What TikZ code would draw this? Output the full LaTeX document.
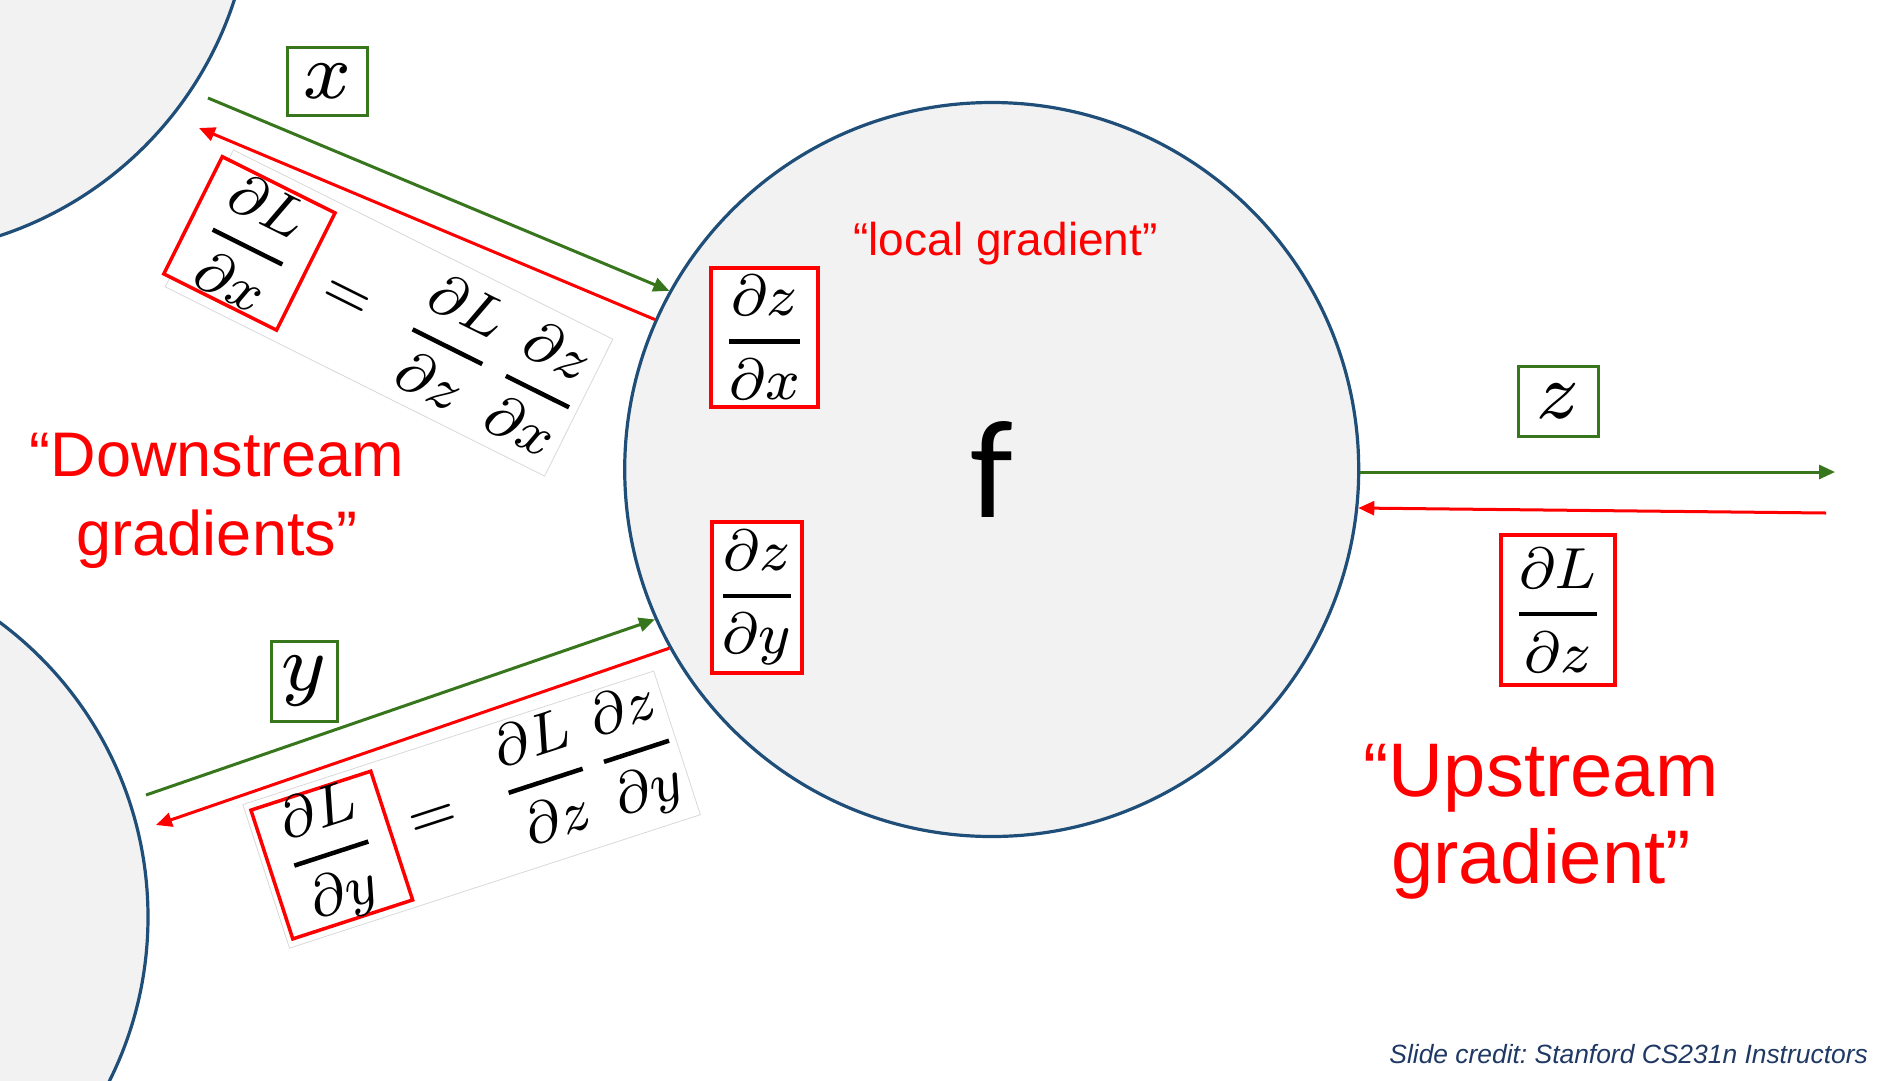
\documentclass[tikz,border=0pt]{standalone}
\usepackage{fix-cm}
\usepackage{amsmath}
\usepackage{fontspec}
\setmainfont{Liberation Sans}
\newfontfamily\calibrifont{Carlito}
\DeclareFontShape{OML}{cmm}{m}{it}{<->cmmi8}{}
\DeclareFontShape{OT1}{cmr}{m}{n}{<->cmr8}{}
\DeclareFontShape{OMS}{cmsy}{m}{n}{<->cmsy8}{}
\usepackage{tikz}
\usetikzlibrary{arrows.meta, positioning}
\definecolor{nodeblue}{HTML}{1F4E79}
\definecolor{nodefill}{HTML}{F2F2F2}
\definecolor{fwdgreen}{HTML}{38761D}
\definecolor{gradred}{HTML}{FF0000}
\definecolor{creditc}{HTML}{1F3864}
\newcommand{\gfrac}[2]{{\displaystyle{#1\above 4.5pt #2}}}

\begin{document}
\begin{tikzpicture}[
  x=1pt, y=-1pt,
  gate/.style={circle, draw=nodeblue, line width=3.2pt, fill=nodefill, minimum size=734pt, inner sep=0pt},
  varbox/.style={draw=fwdgreen, line width=3pt, fill=white, inner sep=0pt, font=\fontsize{80}{80}\selectfont},
  gradbox/.style={draw=gradred, line width=3.5pt, fill=white, inner sep=0pt, font=\fontsize{58}{58}\selectfont},
  panel/.style={draw=black!15, line width=0.8pt, fill=white, inner sep=0pt},
  eqtext/.style={anchor=west, inner sep=0pt, font=\fontsize{58}{58}\selectfont},
  fwd/.style={-{Triangle[length=16pt,width=14pt]}, line width=3pt, fwdgreen},
  bwd/.style={-{Triangle[length=16pt,width=14pt]}, line width=3pt, gradred},
  note/.style={text=gradred, align=center, inner sep=0pt}
]
\path[use as bounding box, fill=white] (0,0) rectangle (1878,1080);
\clip (0,0) rectangle (1878,1080);

% gates
\node[gate] (gx) at (-115,-113) {};
\node[gate] (gy) at (-219,917) {};
\node[gate, font=\calibrifont\fontsize{140}{140}\selectfont] (f) at (991.7,469.5) {f};

% chain rule for x
\begin{scope}[shift={(389,313)}, rotate=-26.5, transform shape]
  \node[panel, minimum width=424pt, minimum height=153pt] (eqx) at (0,0) {};
  \node[gradbox, minimum width=126pt, minimum height=131pt] (dLdx) at (-156,0) {$\gfrac{\partial L}{\partial x}$};
  \node[eqtext] (chainx) at (-69,0) {$=\hspace{31pt}\gfrac{\partial L}{\partial z}\hspace{24pt}\gfrac{\partial z}{\partial x}$};
\end{scope}

% chain rule for y
\begin{scope}[shift={(471.6,809.6)}, rotate=18, transform shape]
  \node[panel, minimum width=432pt, minimum height=151pt] (eqy) at (0,0) {};
  \node[gradbox, minimum width=126pt, minimum height=135pt] (dLdy) at (-147,0) {$\gfrac{\partial L}{\partial y}$};
  \node[eqtext] (chainy) at (-63,-3) {$=\hspace{37pt}\gfrac{\partial L}{\partial z}\hspace{20pt}\gfrac{\partial z}{\partial y}$};
\end{scope}

% free ends
\coordinate (xin) at (208,98);
\coordinate (xback) at (199,128);
\coordinate (yin) at (146,795);
\coordinate (yback) at (156,825);
\coordinate (zout) at (1835,472);
\coordinate (zback) at (1826,513);

\draw[fwd] (xin) -- (f.151.4);
\draw[bwd] (f.156.7) -- (xback);
\draw[fwd] (yin) -- (f.204.6);
\draw[bwd] (f.209) -- (yback);
\draw[fwd] (f.east |- zout) -- (zout);
\draw[bwd] (zback) -- (f.-6.7);

% values and gradients
\node[varbox, minimum width=80pt, minimum height=68pt] (xlab) at (327,81) {$x$};
\node[varbox, minimum width=66pt, minimum height=80pt] (ylab) at (304,681) {$y$};
\node[varbox, minimum width=80pt, minimum height=70pt] (zlab) at (1558,401) {$z$};
\node[gradbox, minimum width=114pt, minimum height=150pt] (dLdz) at (1558,610) {$\gfrac{\partial L}{\partial z}$};
\node[gradbox, minimum width=107pt, minimum height=139pt] (dzdx) at (764.5,337.5) {$\gfrac{\partial z}{\partial x}$};
\node[gradbox, minimum width=90pt, minimum height=151pt] (dzdy) at (757,597.5) {$\gfrac{\partial z}{\partial y}$};

\node[note, font=\fontsize{46}{55}\selectfont, anchor=base] (localg) at (1005.5,255) {“local gradient”};
\node[note, font=\fontsize{63}{79}\selectfont] (down) at (217,501) {“Downstream\\gradients”};
\node[note, font=\fontsize{76}{87}\selectfont] (up) at (1541,822) {“Upstream\\gradient”};
\node[anchor=base east, inner sep=0pt, text=creditc, font=\itshape\fontsize{26.4}{30}\selectfont] (credit) at (1868,1063) {Slide credit:\ Stanford CS231n Instructors};
\end{tikzpicture}
\end{document}
